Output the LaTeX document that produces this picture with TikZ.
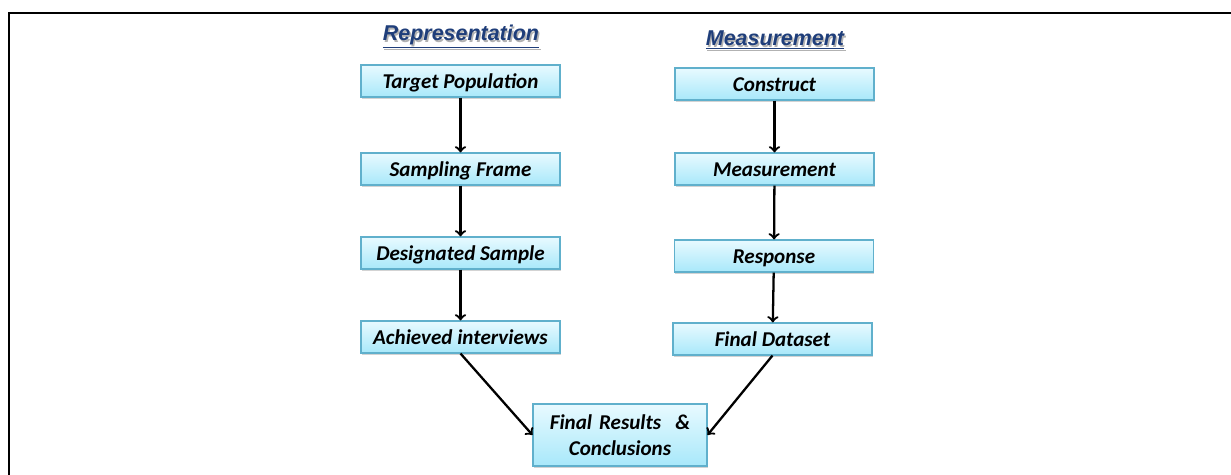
\documentclass[tikz,border=0pt]{standalone}
\usepackage{fontspec}
\setmainfont{Carlito}
\newfontfamily\headfont{Liberation Sans}
\usepackage{tikz}
\usetikzlibrary{shadows,arrows}
\usetikzlibrary{positioning}

\definecolor{boxtop}{RGB}{232,250,255}
\definecolor{boxbot}{RGB}{168,232,250}
\definecolor{boxline}{RGB}{96,176,204}
\definecolor{headblue}{RGB}{31,62,122}

\tikzset{
	stagebox/.style={draw=boxline, line width=0.6pt, top color=boxtop, bottom color=boxbot,
		minimum width=3.98cm, minimum height=0.64cm, inner sep=0pt,
		drop shadow={shadow xshift=0.5pt, shadow yshift=-1pt, opacity=0.35},
		font=\fontsize{12}{15}\selectfont\bfseries\itshape, align=center},
	onerow/.style={text height=9pt, text depth=1pt},
	headtext/.style={font=\headfont\fontsize{12.2}{14}\selectfont\bfseries\itshape, text=headblue, inner sep=0pt},
	flow/.style={->,>=to, line width=1.3pt}
}

\begin{document}
\begin{tikzpicture}[x=0.02cm,y=-0.02cm]
		
		\useasboundingbox (0,0) rectangle (1231,475);
		\draw[line width=1.2pt] (9,475) -- (9,13) -- (1231,13);
		
		% headings
		\node[headtext, text=black!30] (rephs) at (462.5,39) {\underline{Representation}};
		\node[headtext] (reph) at (461,37) {\underline{Representation}};
		\node[headtext, text=black!30] (meahs) at (776.5,42) {\underline{Measurement}};
		\node[headtext] (meah) at (775,40) {\underline{Measurement}};
		
		% representation side
		\node[stagebox, onerow] (target) at (460.5,81) {Target Population};
		\node[stagebox, onerow] (frame) at (460.5,169) {Sampling Frame};
		\node[stagebox, onerow] (sample) at (460.5,253) {Designated Sample};
		\node[stagebox, onerow] (achieved) at (460.5,337) {Achieved interviews};
		
		% measurement side
		\node[stagebox, onerow] (construct) at (774.5,84) {Construct};
		\node[stagebox, onerow] (measure) at (774.5,169) {Measurement};
		\node[stagebox, onerow] (response) at (774,256) {Response};
		\node[stagebox, onerow] (dataset) at (772.5,339) {Final Dataset};
		
		% result
		\node[stagebox, minimum width=3.48cm, minimum height=1.24cm, text width=3.4cm] (results) at (620,435) {Final Results~~\&\\Conclusions};
		
		\draw[flow] (target) -- (frame);
		\draw[flow] (frame) -- (sample);
		\draw[flow] (sample) -- (achieved);
		\draw[flow] (construct) -- (measure);
		\draw[flow] (measure) -- (response);
		\draw[flow] (response) -- (dataset);
		
		\draw[flow] (achieved.south) -- (results.west);
		\draw[flow] (dataset.south) -- (results.east);
		
	\end{tikzpicture}
\end{document}
